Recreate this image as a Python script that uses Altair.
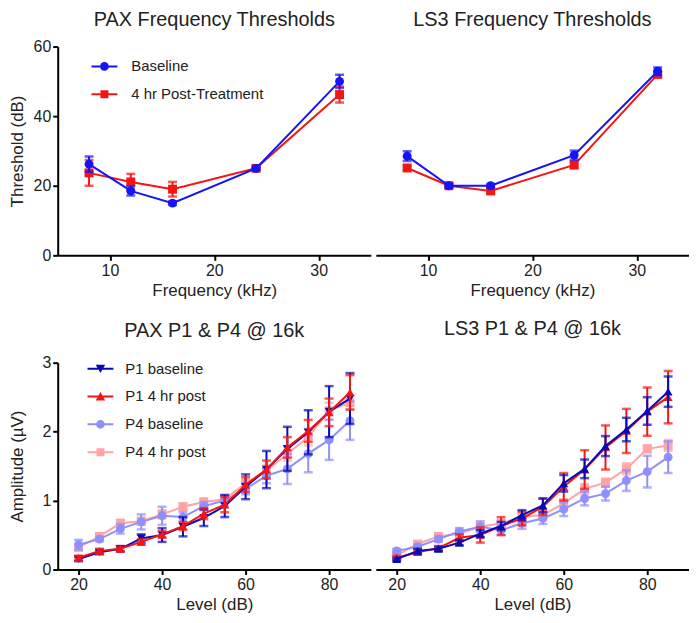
import altair as alt
import pandas as pd

FONT = "Liberation Sans"
TXT = "#222222"

# ---------------- data: frequency thresholds ----------------
freq = [8, 12, 16, 24, 32]
top_names = ["Baseline", "4 hr Post-Treatment"]
top_colors = ["#1414f5", "#f51414"]
top_shapes = ["circle", "square"]

pax_base = [26.2, 18.5, 15.0, 25.0, 50.0]
pax_base_err = [2.2, 1.3, 0.5, 0.5, 1.9]
pax_post = [23.7, 21.1, 19.0, 25.0, 46.2]
pax_post_err = [3.7, 2.3, 2.1, 0.5, 2.3]

ls3_base = [28.5, 20.0, 20.0, 28.8, 52.9]
ls3_base_err = [1.4, 0.5, 0.5, 1.3, 1.1]
ls3_post = [25.1, 20.0, 18.5, 26.0, 52.0]
ls3_post_err = [0.6, 0.5, 0.7, 1.0, 0.8]

# ---------------- data: P1 & P4 amplitudes ----------------
levels = [20, 25, 30, 35, 40, 45, 50, 55, 60, 65, 70, 75, 80, 85]
bot_names = ["P1 baseline", "P1 4 hr post", "P4 baseline", "P4 4 hr post"]
bot_colors = ["#0a0ab4", "#f51414", "#8f8fff", "#ffa3a3"]
bot_shapes = ["triangle-down", "triangle-up", "circle", "square"]
ls3_bot_shapes = ["triangle-up", "triangle-up", "circle", "square"]

pax_p1b = [0.15, 0.25, 0.30, 0.45, 0.50, 0.62, 0.75, 0.92, 1.20, 1.45, 1.75, 1.99, 2.29, 2.48]
pax_p1b_err = [0.03, 0.03, 0.04, 0.06, 0.10, 0.14, 0.12, 0.16, 0.18, 0.27, 0.32, 0.32, 0.37, 0.37]
pax_p1p = [0.17, 0.27, 0.30, 0.40, 0.51, 0.63, 0.81, 0.94, 1.23, 1.45, 1.77, 2.01, 2.28, 2.57]
pax_p1p_err = [0.03, 0.03, 0.03, 0.04, 0.05, 0.06, 0.08, 0.11, 0.11, 0.13, 0.15, 0.16, 0.20, 0.25]
pax_p4b = [0.36, 0.44, 0.59, 0.69, 0.78, 0.76, 0.92, 1.00, 1.17, 1.36, 1.46, 1.68, 1.88, 2.16]
pax_p4b_err = [0.07, 0.03, 0.07, 0.11, 0.13, 0.07, 0.06, 0.08, 0.08, 0.11, 0.22, 0.27, 0.29, 0.28]
pax_p4p = [0.32, 0.48, 0.67, 0.70, 0.80, 0.91, 0.98, 1.02, 1.25, 1.43, 1.68, 1.92, 2.30, 2.42]
pax_p4p_err = [0.04, 0.03, 0.05, 0.05, 0.06, 0.05, 0.05, 0.05, 0.06, 0.08, 0.10, 0.12, 0.12, 0.10]

ls3_p1b = [0.15, 0.27, 0.30, 0.39, 0.52, 0.63, 0.79, 0.93, 1.25, 1.46, 1.79, 2.03, 2.30, 2.58]
ls3_p1b_err = [0.02, 0.03, 0.03, 0.04, 0.05, 0.06, 0.07, 0.10, 0.12, 0.135, 0.145, 0.17, 0.20, 0.22]
ls3_p1p = [0.17, 0.25, 0.31, 0.46, 0.50, 0.63, 0.74, 0.91, 1.20, 1.45, 1.77, 2.01, 2.29, 2.50]
ls3_p1p_err = [0.03, 0.03, 0.03, 0.05, 0.11, 0.13, 0.10, 0.12, 0.20, 0.28, 0.32, 0.32, 0.35, 0.38]
ls3_p4b = [0.27, 0.33, 0.44, 0.55, 0.62, 0.57, 0.67, 0.74, 0.875, 1.03, 1.10, 1.29, 1.42, 1.63]
ls3_p4b_err = [0.03, 0.03, 0.04, 0.05, 0.08, 0.07, 0.08, 0.08, 0.10, 0.10, 0.10, 0.15, 0.23, 0.23]
ls3_p4p = [0.21, 0.37, 0.48, 0.52, 0.62, 0.67, 0.76, 0.79, 0.96, 1.17, 1.26, 1.46, 1.75, 1.80]
ls3_p4p_err = [0.03, 0.03, 0.04, 0.05, 0.05, 0.05, 0.05, 0.06, 0.06, 0.07, 0.06, 0.08, 0.05, 0.08]


def make_df(xs, series):
    rows = []
    for name, vals, errs in series:
        for xi, vi, ei in zip(xs, vals, errs):
            rows.append({"x": xi, "y": vi, "lo": vi - ei, "hi": vi + ei, "series": name})
    return pd.DataFrame(rows)


pax_thr = make_df(freq, [("Baseline", pax_base, pax_base_err),
                         ("4 hr Post-Treatment", pax_post, pax_post_err)])
ls3_thr = make_df(freq, [("Baseline", ls3_base, ls3_base_err),
                         ("4 hr Post-Treatment", ls3_post, ls3_post_err)])
pax_amp = make_df(levels, [("P1 baseline", pax_p1b, pax_p1b_err),
                           ("P1 4 hr post", pax_p1p, pax_p1p_err),
                           ("P4 baseline", pax_p4b, pax_p4b_err),
                           ("P4 4 hr post", pax_p4p, pax_p4p_err)])
ls3_amp = make_df(levels, [("P1 baseline", ls3_p1b, ls3_p1b_err),
                           ("P1 4 hr post", ls3_p1p, ls3_p1p_err),
                           ("P4 baseline", ls3_p4b, ls3_p4b_err),
                           ("P4 4 hr post", ls3_p4p, ls3_p4p_err)])

# legend symbol paths: a line with the marker on it
BAR = "M-1.625,-0.13H1.625V0.13H-1.625Z "
PATHS = {
    "circle": BAR + "M0.55,0A0.55,0.55,0,1,1,-0.55,0A0.55,0.55,0,1,1,0.55,0Z",
    "square": BAR + "M-0.5,-0.5H0.5V0.5H-0.5Z",
    "triangle-down": BAR + "M-0.6,-0.5L0.6,-0.5L0,0.55Z",
    "triangle-up": BAR + "M0.6,0.5L-0.6,0.5L0,-0.55Z",
}


def panel(df, names, colors, shapes, order, xdom, xticks, xtitle, ydom, yticks,
          ytitle, title, w, h, title_offset, legend_pos=None, show_y=True,
          ytitle_pad=7, msize=80):
    xs = alt.Scale(domain=xdom, nice=False, zero=False)
    ys = alt.Scale(domain=ydom, nice=False, zero=False)
    xaxis = alt.Axis(values=xticks, title=xtitle, grid=False)
    if show_y:
        yaxis = alt.Axis(values=yticks, title=ytitle, grid=False, titlePadding=ytitle_pad)
    else:
        yaxis = None
    X = alt.X("x:Q", scale=xs, axis=xaxis)
    shape_of = dict(zip(names, shapes))
    color_of = dict(zip(names, colors))
    layers = []
    for name in order:
        c = color_of[name]
        base = alt.Chart(df).transform_filter(alt.datum.series == name)
        rule = base.mark_rule(strokeWidth=2, color=c).encode(
            x=X, y=alt.Y("lo:Q", scale=ys, axis=yaxis), y2="hi:Q")
        tlo = base.mark_tick(orient="horizontal", size=9, thickness=2.5, color=c).encode(
            x=X, y=alt.Y("lo:Q", scale=ys, axis=yaxis))
        thi = base.mark_tick(orient="horizontal", size=9, thickness=2.5, color=c).encode(
            x=X, y=alt.Y("hi:Q", scale=ys, axis=yaxis))
        line = base.mark_line(strokeWidth=2, color=c).encode(
            x=X, y=alt.Y("y:Q", scale=ys, axis=yaxis))
        pts = base.mark_point(filled=True, size=msize, opacity=1, color=c,
                              shape=shape_of[name]).encode(
            x=X, y=alt.Y("y:Q", scale=ys, axis=yaxis))
        layers += [rule, tlo, thi, line, pts]
    if legend_pos is not None:
        lx, ly, loff = legend_pos
        leg = alt.Legend(
            title=None, orient="none", legendX=lx, legendY=ly, padding=0,
            symbolSize=256, labelFontSize=15, labelFont=FONT, labelColor=TXT,
            labelOffset=loff, rowPadding=12, symbolStrokeWidth=0, symbolOpacity=1)
        lg = alt.Chart(df).mark_point(filled=True, opacity=0).encode(
            x=X, y=alt.Y("y:Q", scale=ys, axis=yaxis),
            color=alt.Color("series:N", scale=alt.Scale(domain=names, range=colors),
                            legend=leg),
            shape=alt.Shape("series:N",
                            scale=alt.Scale(domain=names, range=[PATHS[s] for s in shapes]),
                            legend=leg))
        layers.append(lg)
    return alt.layer(*layers).properties(
        width=w, height=h,
        title=alt.TitleParams(title, fontSize=20, font=FONT, fontWeight="normal",
                              color=TXT, offset=title_offset, anchor="middle",
                              frame="group"))


W = 315
top_left = panel(pax_thr, top_names, top_colors, top_shapes,
                 ["4 hr Post-Treatment", "Baseline"], [5, 35], [10, 20, 30],
                 "Frequency (kHz)", [0, 60], [0, 20, 40, 60], "Threshold (dB)",
                 "PAX Frequency Thresholds", W, 210, 9,
                 legend_pos=(39, 12, 19), ytitle_pad=7)
top_right = panel(ls3_thr, top_names, top_colors, top_shapes,
                  ["4 hr Post-Treatment", "Baseline"], [5, 35], [10, 20, 30],
                  "Frequency (kHz)", [0, 60], [0, 20, 40, 60], "Threshold (dB)",
                  "LS3 Frequency Thresholds", W, 210, 17, show_y=False)
bot_left = panel(pax_amp, bot_names, bot_colors, bot_shapes,
                 ["P4 4 hr post", "P4 baseline", "P1 baseline", "P1 4 hr post"],
                 [15, 90], [20, 40, 60, 80], "Level (dB)", [0, 3], [0, 1, 2, 3],
                 "Amplitude (µV)", "PAX P1 & P4 @ 16k", W, 208, 14,
                 legend_pos=(35, -2, 17), ytitle_pad=16)
bot_right = panel(ls3_amp, bot_names, bot_colors, ls3_bot_shapes,
                  ["P4 4 hr post", "P4 baseline", "P1 4 hr post", "P1 baseline"],
                  [15, 90], [20, 40, 60, 80], "Level (dB)", [0, 3], [0, 1, 2, 3],
                  "Amplitude (µV)", "LS3 P1 & P4 @ 16k", W, 208, 24, show_y=False)

top = alt.hconcat(top_left, top_right, spacing=5).resolve_scale(color="independent", shape="independent")
bot = alt.hconcat(bot_left, bot_right, spacing=5).resolve_scale(color="independent", shape="independent")

chart = alt.vconcat(top, bot, spacing=21).resolve_scale(
    color="independent", shape="independent"
).properties(
    padding={"left": 0, "top": 0, "right": 0, "bottom": 0}
).configure_axis(
    domainColor="black", domainWidth=2, tickColor="black", tickWidth=2, tickSize=5,
    labelFontSize=16, labelFont=FONT, labelColor=TXT, labelPadding=2,
    titleFontSize=17, titleFont=FONT, titleFontWeight="normal", titleColor=TXT,
    grid=False,
).configure_view(stroke=None)

chart.save("out.html", embed_options={"renderer": "svg", "actions": False})
